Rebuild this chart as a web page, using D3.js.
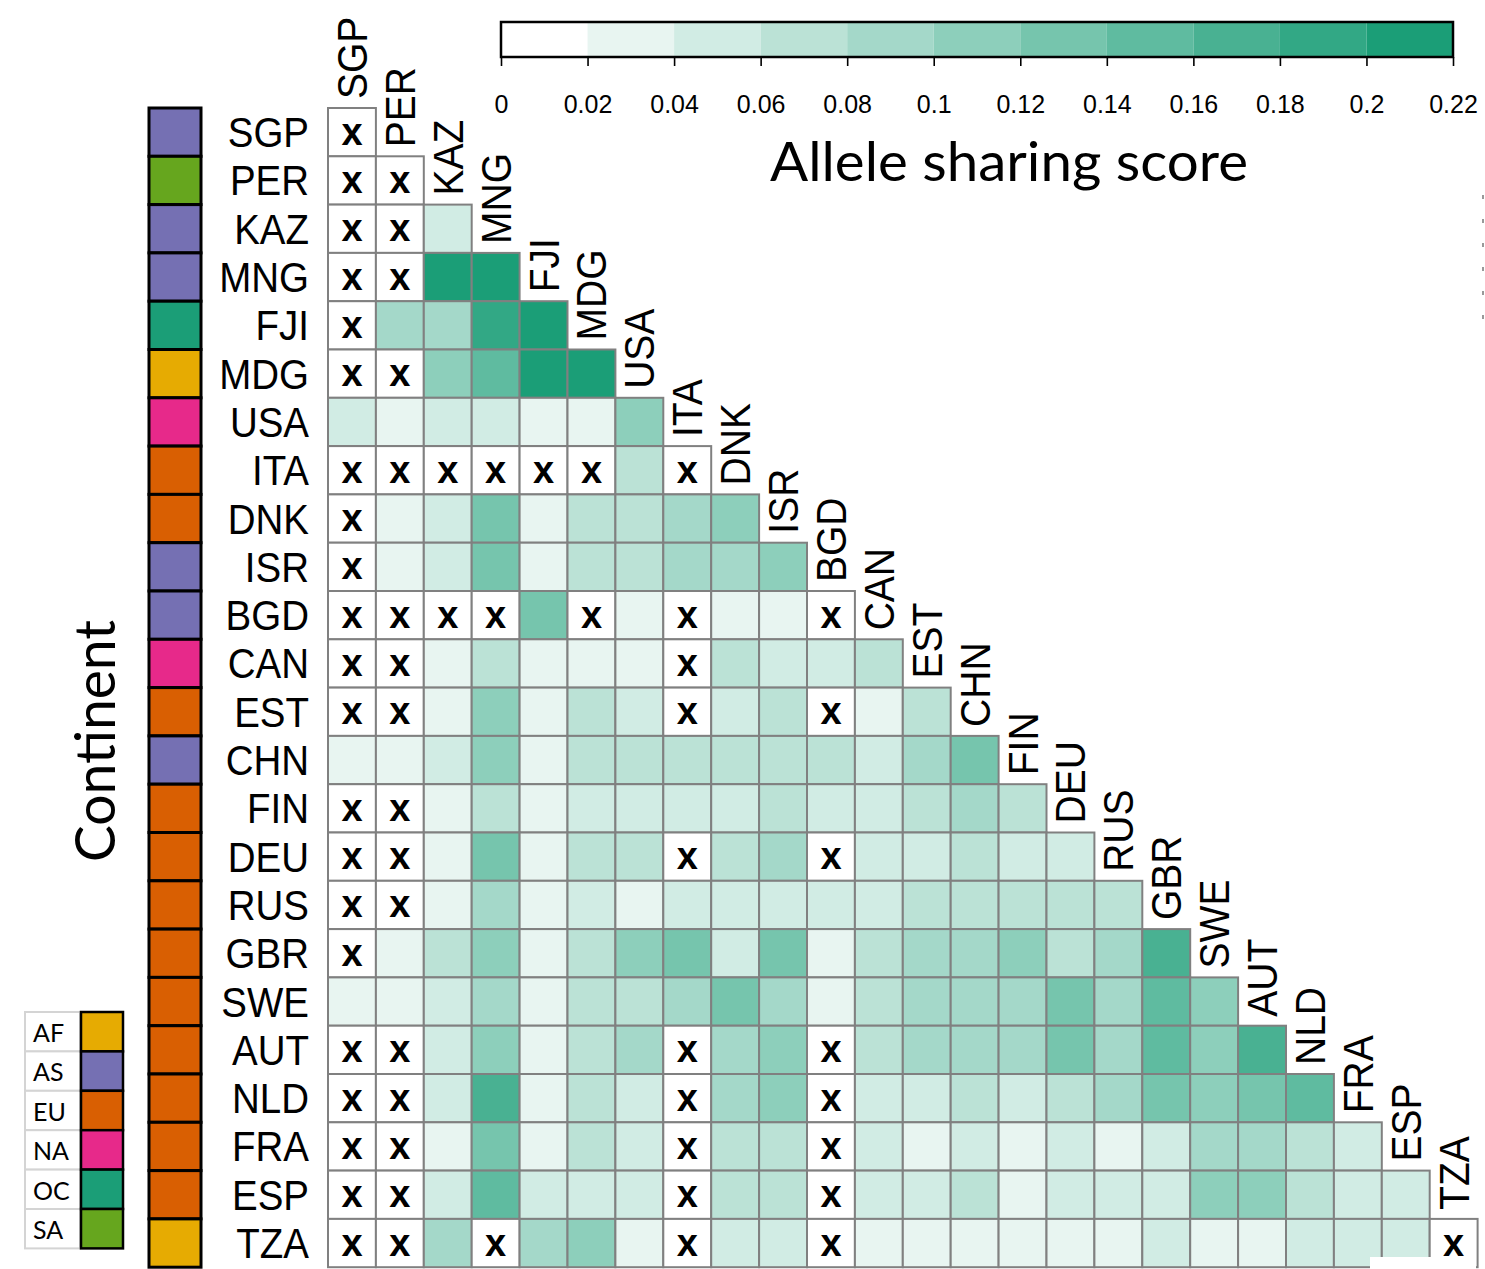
<!DOCTYPE html>
<html>
<head>
<meta charset="utf-8">
<script src="https://cdn.jsdelivr.net/npm/d3@7"></script>
<style>
  body { margin: 0; background: #fff; }
  svg { display: block; }
</style>
</head>
<body>
<svg id="chart" width="1485" height="1269"></svg>
<script>
// Countries in matrix order (rows top to bottom, columns left to right)
const countries = ["SGP","PER","KAZ","MNG","FJI","MDG","USA","ITA","DNK","ISR","BGD","CAN",
                   "EST","CHN","FIN","DEU","RUS","GBR","SWE","AUT","NLD","FRA","ESP","TZA"];

// Continent of each country, same order
const continentOf = ["AS","SA","AS","AS","OC","AF","NA","EU","EU","AS","AS","NA",
                     "EU","AS","EU","EU","EU","EU","EU","EU","EU","EU","EU","AF"];

const continentNames  = ["AF","AS","EU","NA","OC","SA"];
const continentColors = ["#e6ab02","#7570b3","#d95f02","#e7298a","#1b9e77","#66a61e"];

// Colour bar breaks
const scoreTicks = [0, 0.02, 0.04, 0.06, 0.08, 0.1, 0.12, 0.14, 0.16, 0.18, 0.2, 0.22];

// Lower-triangular allele sharing scores (row i has i+1 entries); null = not available
const scores = [
  [null],
  [null, null],
  [null, null, 0.05],
  [null, null, 0.21, 0.21],
  [null, 0.09, 0.09, 0.19, 0.21],
  [null, null, 0.11, 0.15, 0.21, 0.21],
  [0.05, 0.03, 0.05, 0.05, 0.03, 0.03, 0.11],
  [null, null, null, null, null, null, 0.07, null],
  [null, 0.03, 0.05, 0.13, 0.03, 0.07, 0.07, 0.09, 0.11],
  [null, 0.03, 0.05, 0.13, 0.03, 0.07, 0.07, 0.09, 0.09, 0.11],
  [null, null, null, null, 0.13, null, 0.03, null, 0.03, 0.03, null],
  [null, null, 0.03, 0.07, 0.03, 0.03, 0.03, null, 0.07, 0.05, 0.05, 0.07],
  [null, null, 0.03, 0.11, 0.03, 0.07, 0.05, null, 0.05, 0.07, null, 0.03, 0.07],
  [0.03, 0.03, 0.05, 0.11, 0.03, 0.07, 0.07, 0.07, 0.07, 0.07, 0.07, 0.05, 0.09, 0.13],
  [null, null, 0.03, 0.07, 0.03, 0.05, 0.05, 0.05, 0.05, 0.07, 0.05, 0.05, 0.07, 0.09, 0.07],
  [null, null, 0.03, 0.13, 0.03, 0.07, 0.07, null, 0.07, 0.09, null, 0.05, 0.05, 0.07, 0.05, 0.05],
  [null, null, 0.03, 0.09, 0.03, 0.05, 0.03, 0.05, 0.05, 0.05, 0.05, 0.05, 0.07, 0.07, 0.07, 0.07, 0.07],
  [null, 0.03, 0.07, 0.11, 0.03, 0.07, 0.11, 0.13, 0.05, 0.13, 0.03, 0.07, 0.09, 0.09, 0.11, 0.07, 0.09, 0.17],
  [0.03, 0.03, 0.05, 0.09, 0.03, 0.07, 0.07, 0.09, 0.13, 0.09, 0.03, 0.07, 0.09, 0.09, 0.09, 0.13, 0.09, 0.15, 0.11],
  [null, null, 0.05, 0.11, 0.03, 0.07, 0.09, null, 0.09, 0.11, null, 0.07, 0.09, 0.09, 0.09, 0.13, 0.09, 0.15, 0.11, 0.17],
  [null, null, 0.05, 0.17, 0.03, 0.07, 0.05, null, 0.09, 0.11, null, 0.05, 0.05, 0.07, 0.05, 0.07, 0.09, 0.13, 0.11, 0.13, 0.15],
  [null, null, 0.03, 0.13, 0.03, 0.07, 0.05, null, 0.07, 0.07, null, 0.05, 0.03, 0.05, 0.03, 0.05, 0.03, 0.05, 0.09, 0.09, 0.07, 0.05],
  [null, null, 0.05, 0.15, 0.05, 0.05, 0.05, null, 0.07, 0.07, null, 0.05, 0.05, 0.07, 0.03, 0.05, 0.05, 0.05, 0.11, 0.11, 0.07, 0.05, 0.05],
  [null, null, 0.09, null, 0.09, 0.11, 0.03, null, 0.05, 0.05, null, 0.03, 0.03, 0.03, 0.03, 0.03, 0.03, 0.05, 0.03, 0.03, 0.05, 0.05, 0.05, null]
];

const svg = d3.select("#chart");
const labelFont = "'Liberation Sans', Arial, Helvetica, sans-serif";
const titleFont = "Lato, 'Open Sans', sans-serif";

// Grid scales
const x = d3.scaleBand().domain(countries).range([328, 328 + 24 * 47.9]);
const y = d3.scaleBand().domain(countries).range([108, 108 + 24 * 48.3]);

// Binned colour scale: white to teal in 11 steps
const binColors = d3.range(11).map(i => d3.interpolateRgb("#ffffff", "#1b9e77")(i / 10));
const color = d3.scaleThreshold().domain(scoreTicks.slice(1, -1)).range(binColors);

const cells = [];
scores.forEach((row, i) => row.forEach((v, j) => cells.push({ r: countries[i], c: countries[j], v })));

// Heatmap cells
const cellG = svg.append("g");
cellG.selectAll("rect").data(cells).join("rect")
  .attr("x", d => x(d.c)).attr("y", d => y(d.r))
  .attr("width", x.bandwidth()).attr("height", y.bandwidth())
  .attr("fill", d => d.v == null ? "#ffffff" : color(d.v))
  .attr("stroke", "#808080").attr("stroke-width", 2);

// Missing-value crosses
cellG.selectAll("text").data(cells.filter(d => d.v == null)).join("text")
  .attr("x", d => x(d.c) + x.bandwidth() / 2)
  .attr("y", d => y(d.r) + y.bandwidth() / 2 + 12.5)
  .attr("text-anchor", "middle")
  .attr("font-family", labelFont).attr("font-weight", "bold").attr("font-size", 38)
  .attr("fill", "#000").text("x");

// Row labels
svg.append("g").selectAll("text").data(countries).join("text")
  .attr("transform", d => `translate(309,${y(d) + y.bandwidth() / 2 + 15}) scale(1,1.08)`)
  .attr("text-anchor", "end")
  .attr("font-family", labelFont).attr("font-size", 38.5).attr("fill", "#000")
  .text(d => d);

// Column labels, sitting on top of each diagonal cell
svg.append("g").selectAll("text").data(countries).join("text")
  .attr("transform", d => `translate(${x(d) + x.bandwidth() / 2 + 15},${y(d) - 9}) rotate(-90) scale(1,1.08)`)
  .attr("text-anchor", "start")
  .attr("font-family", labelFont).attr("font-size", 39).attr("fill", "#000")
  .text(d => d);

// Continent strip
const contColor = d3.scaleOrdinal().domain(continentNames).range(continentColors);
svg.append("g").selectAll("rect").data(countries).join("rect")
  .attr("x", 149).attr("y", (d) => y(d))
  .attr("width", 52).attr("height", y.bandwidth())
  .attr("fill", (d, i) => contColor(continentOf[i]))
  .attr("stroke", "#000").attr("stroke-width", 3);

svg.append("text")
  .attr("transform", "translate(115,741) rotate(-90)")
  .attr("text-anchor", "middle")
  .attr("font-family", titleFont).attr("font-size", 56)
  .attr("textLength", 242).attr("lengthAdjust", "spacingAndGlyphs")
  .attr("fill", "#000").text("Continent");

// Continent legend
const legY = d3.scaleBand().domain(continentNames).range([1012, 1012 + 6 * 39.4]);
const leg = svg.append("g");
leg.selectAll("rect.lab").data(continentNames).join("rect")
  .attr("class", "lab")
  .attr("x", 25).attr("y", d => legY(d)).attr("width", 55).attr("height", legY.bandwidth())
  .attr("fill", "#fff").attr("stroke", "#d4d4d4").attr("stroke-width", 2);
leg.selectAll("text").data(continentNames).join("text")
  .attr("x", 33).attr("y", d => legY(d) + 30)
  .attr("font-family", titleFont).attr("font-size", 25).attr("fill", "#000")
  .text(d => d);
leg.selectAll("rect.sw").data(continentNames).join("rect")
  .attr("class", "sw")
  .attr("x", 81).attr("y", d => legY(d)).attr("width", 42).attr("height", legY.bandwidth())
  .attr("fill", d => contColor(d))
  .attr("stroke", "#000").attr("stroke-width", 2.5);

// Colour bar
const cb = d3.scaleLinear().domain([0, 0.22]).range([501, 1453]);
const cbG = svg.append("g");
cbG.selectAll("rect").data(binColors).join("rect")
  .attr("x", (d, i) => cb(scoreTicks[i]))
  .attr("width", (d, i) => cb(scoreTicks[i + 1]) - cb(scoreTicks[i]))
  .attr("y", 22).attr("height", 35)
  .attr("fill", d => d);
cbG.append("rect")
  .attr("x", cb(0)).attr("y", 22).attr("width", cb(0.22) - cb(0)).attr("height", 35)
  .attr("fill", "none").attr("stroke", "#000").attr("stroke-width", 2.5);

const axis = svg.append("g").attr("transform", "translate(0,57)")
  .call(d3.axisBottom(cb).tickValues(scoreTicks).tickSize(9).tickPadding(29)
    .tickFormat(d3.format("~g")));
axis.select(".domain").remove();
axis.selectAll(".tick line").attr("stroke", "#000").attr("stroke-width", 1.6);
axis.selectAll(".tick text")
  .attr("font-family", labelFont).attr("font-size", 25).attr("fill", "#000");

svg.append("text")
  .attr("x", 770).attr("y", 181)
  .attr("font-family", titleFont).attr("font-size", 54)
  .attr("textLength", 478).attr("lengthAdjust", "spacingAndGlyphs")
  .attr("fill", "#000").text("Allele sharing score");

// Blank patch at the lower right corner and faint edge marks
svg.append("rect").attr("x", 1370).attr("y", 1257).attr("width", 106).attr("height", 12).attr("fill", "#fff");
svg.append("line").attr("x1", 1483).attr("x2", 1483).attr("y1", 195).attr("y2", 322)
  .attr("stroke", "#999").attr("stroke-width", 2).attr("stroke-dasharray", "4,20");
</script>
</body>
</html>
